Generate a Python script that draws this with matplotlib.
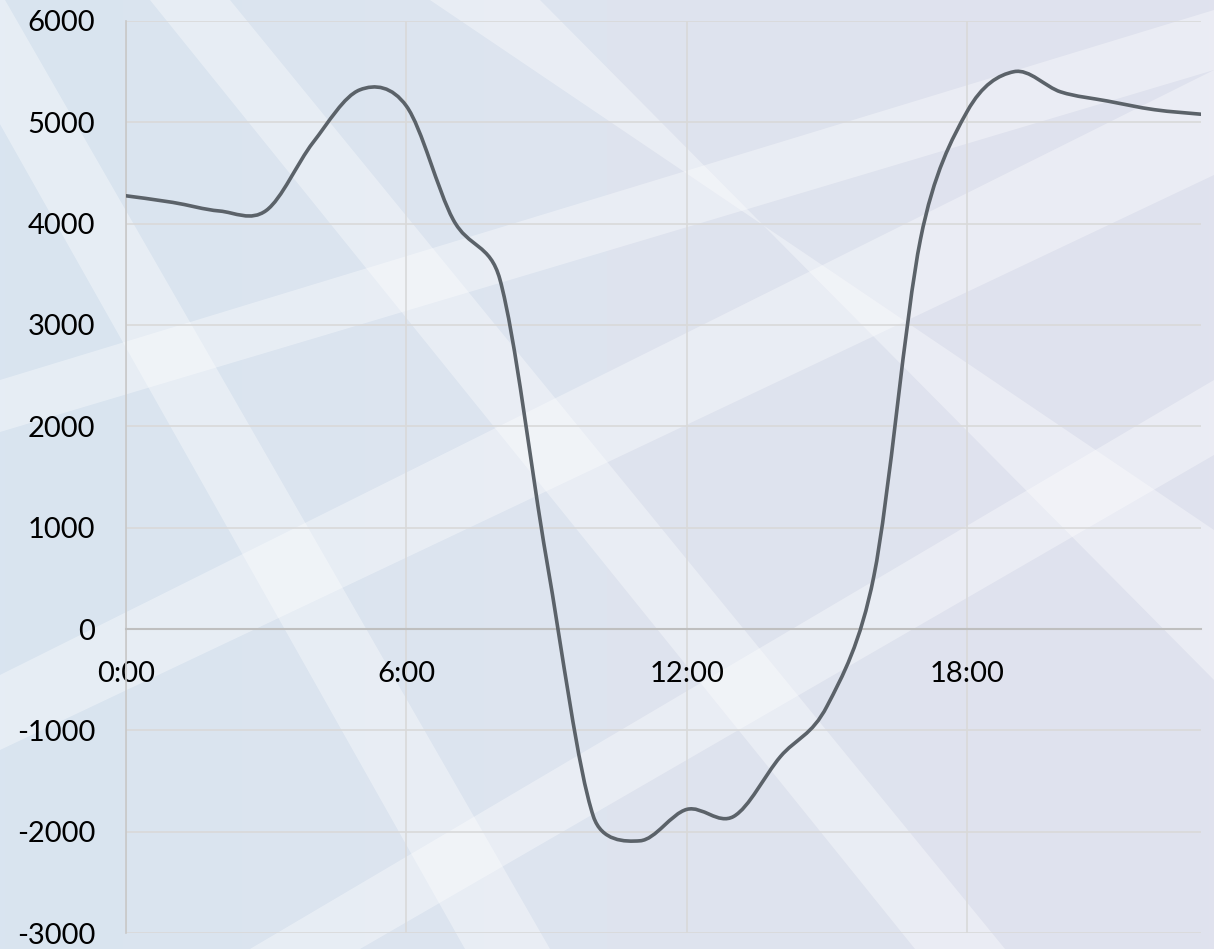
import numpy as np
import matplotlib
matplotlib.use('Agg')
import matplotlib.pyplot as plt
from matplotlib.path import Path
from matplotlib.patches import PathPatch, Polygon
from matplotlib.colors import LinearSegmentedColormap

# hourly values
hours = list(range(24))
values = [4275, 4210, 4125, 4130, 4800, 5320, 5160, 4040, 3450, 680, -1850, -2090,
          -1780, -1850, -1260, -760, 520, 3850, 5110, 5500, 5300, 5210, 5125, 5080]
tick_pos = [0, 6, 12, 18]
tick_labels = ['0:00', '6:00', '12:00', '18:00']
y_ticks = list(range(-3000, 7000, 1000))

plt.rcParams['axes.unicode_minus'] = False

W, H = 1214, 949
fig = plt.figure(figsize=(W / 100, H / 100), dpi=100)

# --- background: soft blue gradient with white diagonal bands ---
bg = fig.add_axes([0, 0, 1, 1], zorder=-5)
bg.set_xlim(0, W)
bg.set_ylim(H, 0)
bg.axis('off')
cmap = LinearSegmentedColormap.from_list('bg', ['#D9E4F0', '#DEE4EF', '#E0E2EE'])
grad = np.linspace(0, 1, 256).reshape(1, -1)
bg.imshow(grad, cmap=cmap, extent=[0, W, H, 0], aspect='auto')

bands = [
    [(-70, 0), (5, 0), (550, H), (465, H)],
    [(150, 0), (230, 0), (1005, H), (915, H)],
    [(430, 0), (540, 0), (W, 680), (W, 530)],
    [(0, 380), (0, 432), (W, 70), (W, 10)],
    [(0, 675), (0, 750), (W, 175), (W, 70)],
    [(250, H), (360, H), (W, 455), (W, 380)],
]
for b in bands:
    bg.add_patch(Polygon(b, closed=True, facecolor='white', edgecolor='none', alpha=0.36))

# --- main chart ---
ax = fig.add_axes([126 / W, 1 - 933 / H, (1201 - 126) / W, (933 - 21) / H])
ax.patch.set_alpha(0)
ax.set_xlim(0, 23)
ax.set_ylim(-3000, 6000)

ax.set_yticks(y_ticks)
ax.set_xticks(tick_pos)
ax.set_xticklabels(tick_labels)
ax.grid(True, color='#D9D9D9', linewidth=1.2)
ax.set_axisbelow(True)
for s in ['top', 'right']:
    ax.spines[s].set_visible(False)
ax.spines['left'].set_color('#C8C8C8')
ax.spines['left'].set_linewidth(1.2)
ax.spines['bottom'].set_position(('data', 0))
ax.spines['bottom'].set_color('#BFBFBF')
ax.spines['bottom'].set_linewidth(1.5)
ax.tick_params(axis='both', length=0, labelsize=21, colors='black')
ax.tick_params(axis='y', pad=22)
ax.tick_params(axis='x', pad=23)
for lab in ax.get_xticklabels() + ax.get_yticklabels():
    lab.set_family(['Lato', 'DejaVu Sans'])

# Excel-style smoothed line: bezier with handles limited to half a segment
pts = ax.transData.transform(np.column_stack([hours, values]))
n = len(pts)
verts = [pts[0]]
codes = [Path.MOVETO]
for i in range(n - 1):
    p0 = pts[max(i - 1, 0)]
    p1 = pts[i]
    p2 = pts[i + 1]
    p3 = pts[min(i + 2, n - 1)]
    d02 = np.hypot(*(p2 - p0))
    d12 = np.hypot(*(p2 - p1))
    d13 = np.hypot(*(p3 - p1))
    f0 = 1 / 6 if d02 / 6 < d12 / 2 else d12 / d02 / 2
    f1 = 1 / 6 if d13 / 6 < d12 / 2 else d12 / d13 / 2
    verts += [p1 + f0 * (p2 - p0), p2 - f1 * (p3 - p1), p2]
    codes += [Path.CURVE4] * 3
verts = ax.transData.inverted().transform(np.array(verts))
ax.add_patch(PathPatch(Path(verts, codes), facecolor='none', edgecolor='#5B6269',
                       linewidth=2.6, capstyle='round', joinstyle='round', zorder=3))

fig.savefig('out.png', dpi=100)
